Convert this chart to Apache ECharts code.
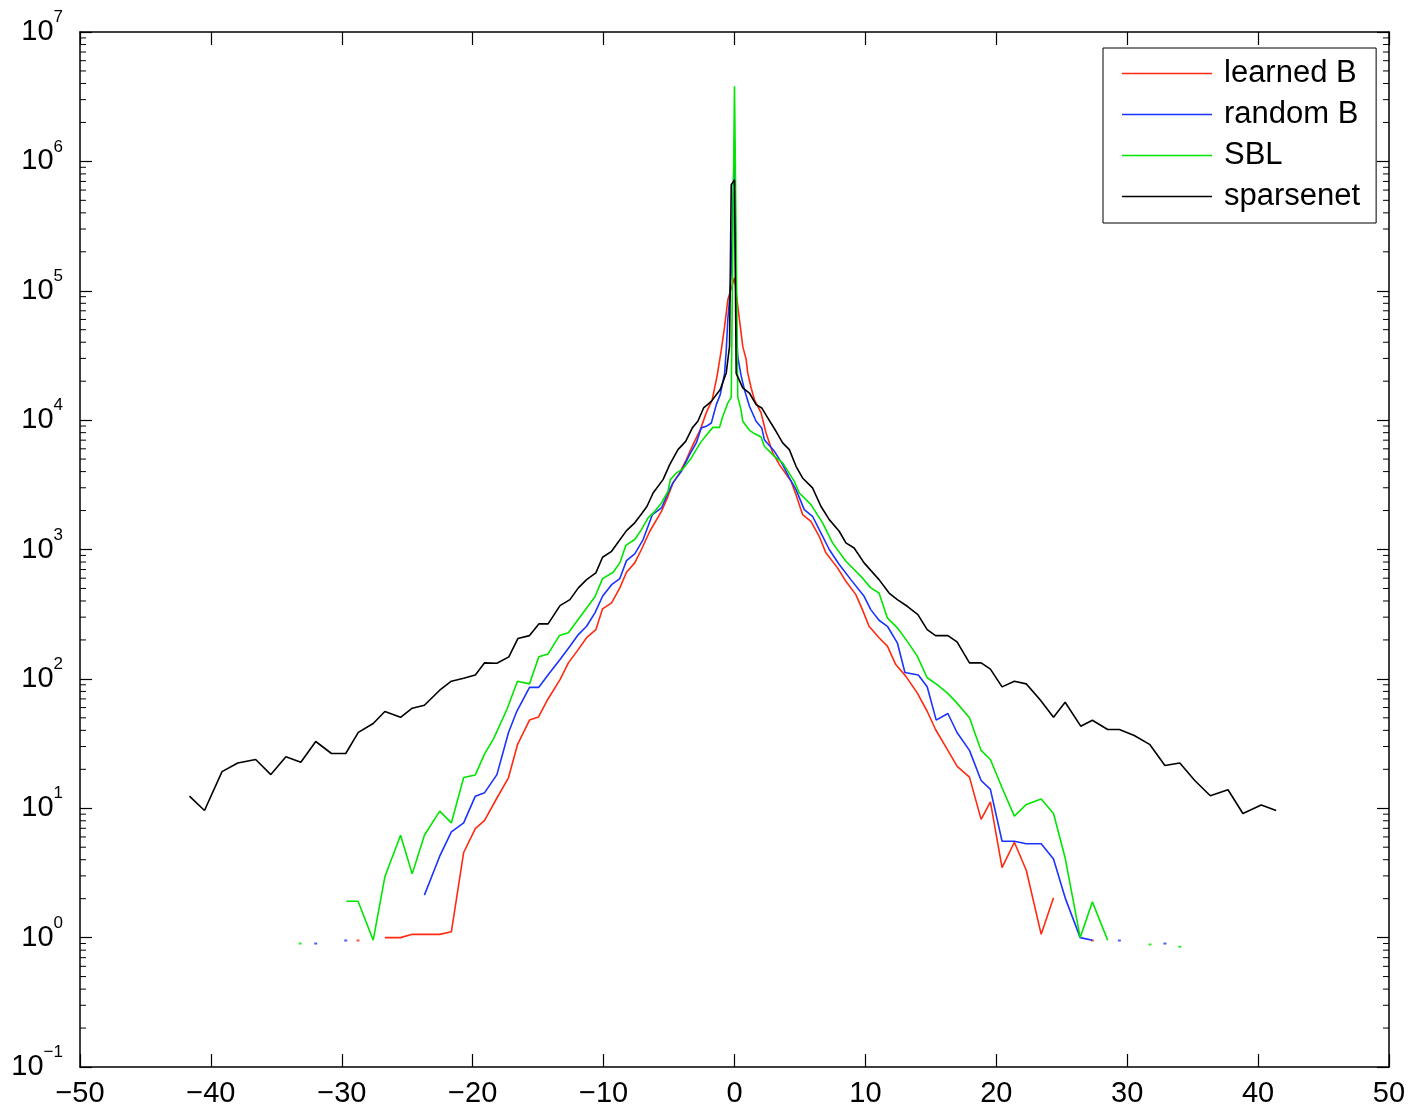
<!DOCTYPE html>
<html>
<head>
<meta charset="utf-8">
<script src="https://cdn.jsdelivr.net/npm/echarts@6/dist/echarts.min.js"></script>
<style>
html,body{margin:0;padding:0;background:#fff;}
#chart{width:1414px;height:1110px;}
</style>
</head>
<body>
<div id="chart"></div>
<script>
// ---- data (x, count) ----
const seriesNames = ['learned B', 'random B', 'SBL', 'sparsenet'];
const xTicks = [-50, -40, -30, -20, -10, 0, 10, 20, 30, 40, 50];

const learnedB = [
  [-26.71,1.0],[-25.51,1.0],[-24.62,1.06],[-23.69,1.06],[-22.52,1.06],[-21.63,1.11],[-20.69,4.55],
  [-19.80,6.95],[-19.09,8.07],[-18.15,12],[-17.27,17.2],[-16.58,31],[-15.66,48],[-14.97,50.8],
  [-14.28,69],[-13.33,98.8],[-12.69,133],[-11.93,169],[-11.30,208],[-10.59,240],[-10.08,348],
  [-9.39,387],[-8.76,505],[-8.25,667],[-7.62,788],[-7.11,1000],[-6.47,1384],[-5.58,1972],
  [-5.08,2576],[-4.70,3273],[-4.19,3908],[-3.68,4955],[-3.17,6471],[-2.61,8450],[-2.16,11380],
  [-1.70,14400],[-1.33,22000],[-1.01,34700],[-0.76,52500],[-0.51,85100],[0,126000],
  [0.25,75900],[0.51,46800],[0.63,37150],[0.89,29500],[1.01,23170],[1.27,17780],[1.52,14400],
  [2.03,11380],[2.41,7960],[2.92,5585],[3.43,4530],[4.32,3365],[4.70,2655],[5.20,1862],
  [5.84,1652],[6.47,1265],[6.98,942],[7.87,721],[8.51,568],[9.27,448],[9.77,343],[10.28,255],
  [11.04,208],[11.68,179],[12.32,129],[13.08,105],[13.96,78],[14.72,56.2],[15.36,40.6],
  [16.12,30.1],[17.01,21.1],[17.95,17.4],[18.84,8.2],[19.55,11.2],[20.44,3.47],[21.38,5.46],
  [22.29,3.32],[23.43,1.06],[24.37,2.03]
];
const learnedDots = [[-28.76,0.95],[27.34,0.95]];

const randomB = [
  [-23.69,2.13],[-22.52,4.26],[-21.63,6.57],[-20.69,7.7],[-19.80,12.4],[-19.09,13.2],[-18.15,18.2],
  [-17.27,38.3],[-16.63,56.2],[-15.66,86],[-14.95,86],[-14.22,108],[-13.33,141],[-12.57,179],
  [-11.93,220],[-11.30,255],[-10.66,324],[-10.08,435],[-9.39,535],[-8.76,596],[-8.25,820],
  [-7.62,925],[-6.98,1194],[-6.27,1862],[-5.58,2094],[-5.08,2735],[-4.70,3273],[-4.06,4018],
  [-3.43,5408],[-2.92,6670],[-2.54,8710],[-2.16,8950],[-1.77,9500],[-1.39,13180],[-1.09,15740],
  [-0.76,22900],[-0.63,34700],[-0.51,60300],[-0.38,85100],[-0.25,140000],[0,1430000],
  [0.13,52500],[0.25,30900],[0.51,21900],[0.76,17200],[1.14,12800],[1.65,9800],[2.08,8700],
  [2.28,7060],[3.05,5740],[3.68,4530],[4.19,3573],[4.70,2904],[5.33,2032],[5.96,1807],
  [6.60,1343],[7.24,1000],[8.0,766],[8.89,585],[9.90,435],[10.41,343],[11.04,284],[11.68,255],
  [12.44,190],[13.02,112],[14.04,107],[14.72,87],[15.41,48],[16.3,54],[17.0,38.5],[17.95,28],
  [18.84,16.4],[19.55,14],[20.44,5.56],[21.38,5.56],[22.29,5.31],[23.43,5.31],[24.37,4.06],
  [25.26,2.03],[26.41,1.0],[27.34,0.955]
];
const randomDots = [[-31.99,0.9],[-29.70,0.95],[29.4,0.95],[32.88,0.9]];

const sbl = [
  [-29.65,1.91],[-28.76,1.91],[-27.6,0.955],[-26.71,2.95],[-25.51,6.18],[-24.62,3.11],[-23.69,6.18],
  [-22.52,9.5],[-21.63,7.7],[-20.69,17.3],[-19.80,18.1],[-19.09,26.3],[-18.41,34.4],[-17.39,58],
  [-16.58,96],[-15.66,91.5],[-14.95,148],[-14.24,156],[-13.38,216],[-12.69,227],[-10.66,431],
  [-10.08,596],[-9.27,667],[-8.76,788],[-8.30,1076],[-7.62,1194],[-7.11,1425],[-6.60,1754],
  [-6.09,1972],[-5.58,2290],[-5.08,2818],[-4.90,3467],[-4.44,3908],[-3.94,4198],[-3.30,5105],
  [-2.61,6670],[-2.11,7730],[-1.65,8790],[-1.14,8790],[-0.94,10400],[-0.51,13580],[-0.25,15000],
  [0,3800000],
  [0.25,15100],[0.5,12000],[0.63,9795],[1.14,8340],[1.52,7870],[2.03,7410],[2.28,6280],
  [3.05,5250],[3.68,4670],[4.57,3365],[4.95,2735],[5.84,2223],[6.73,1607],[7.49,1125],
  [8.51,811],[9.77,603],[10.41,505],[11.04,461],[11.68,296],[12.44,248],[13.2,195],[13.96,150],
  [14.72,102],[15.48,90.4],[16.25,78],[16.88,67],[17.95,50],[18.84,28],[19.55,23.8],[20.44,14.4],
  [21.38,8.7],[22.29,10.7],[23.43,11.8],[24.37,9.1],[25.26,4.14],[26.41,1.0],[27.34,1.89],
  [28.51,0.955]
];
const sblDots = [[-33.18,0.9],[31.74,0.885],[34.02,0.85]];

const sparsenet = [
  [-41.64,12.4],[-40.49,9.6],[-39.15,19.2],[-37.95,22.4],[-36.58,23.8],[-35.42,18.2],[-34.27,25],
  [-33.13,22.7],[-31.99,32.8],[-30.79,26.5],[-29.70,26.5],[-28.74,38.6],[-27.6,45.2],[-26.71,55.9],
  [-25.51,50.5],[-24.62,59.3],[-23.69,62.5],[-22.52,81.7],[-21.63,96],[-20.69,101],[-19.80,107],
  [-19.09,133],[-18.15,132],[-17.24,148],[-16.55,205],[-15.66,216],[-14.95,266],[-14.24,266],
  [-13.33,368],[-12.57,410],[-11.93,505],[-11.30,585],[-10.59,659],[-10.08,871],[-9.39,968],
  [-8.81,1167],[-8.25,1400],[-7.62,1607],[-7.11,1884],[-6.68,2158],[-6.22,2735],[-5.46,3467],
  [-4.95,4529],[-4.32,5916],[-3.73,6855],[-3.22,8710],[-2.80,9795],[-2.36,12420],[-1.77,13960],
  [-1.09,17220],[-0.63,23170],[-0.38,37150],[-0.25,660000],[0,720000],
  [0.13,23000],[0.63,17740],[1.14,16200],[1.65,13180],[2.08,12420],[2.54,10400],[3.17,8200],
  [3.68,6670],[4.19,5916],[4.70,4395],[5.20,3573],[5.96,2992],[6.60,2158],[7.24,1702],[8.0,1384],
  [8.51,1125],[9.14,1028],[9.90,788],[11.04,585],[11.81,461],[12.44,410],[13.2,364],[14.01,314],
  [14.72,240],[15.36,216],[16.3,216],[17.0,193],[17.95,133],[18.84,133],[19.55,119],[20.44,86.7],
  [21.38,96],[22.29,91.5],[23.33,69.2],[24.37,50.5],[25.26,65.9],[26.45,43.1],[27.34,47.9],
  [28.51,40.6],[29.4,40.6],[30.54,36.5],[31.74,31],[32.88,21.4],[34.02,22.4],[35.16,16.4],
  [36.35,12.5],[37.7,13.9],[38.84,9.1],[40.24,10.6],[41.38,9.6]
];

// ---- styling ----
const FONT = '"Liberation Sans", Arial, Helvetica, sans-serif';
const COLORS = ['#ff2a10', '#1a33ff', '#00e600', '#000000'];
const LW = 1.6;

const chart = echarts.init(document.getElementById('chart'), null, {renderer: 'canvas'});

const axisLine = {show: true, onZero: false, lineStyle: {color: '#000', width: 1.5}};
function xAxisDef(pos, showLabel) {
  return {
    type: 'value', min: -50, max: 50, interval: 10, position: pos,
    axisLine: axisLine,
    axisTick: {show: true, inside: true, length: 13, lineStyle: {color: '#000', width: 1.2}},
    axisLabel: {
      show: showLabel, margin: 12, fontSize: 29, lineHeight: 30, fontFamily: FONT, color: '#000',
      formatter: v => String(v).replace('-', '\u2212')
    },
    splitLine: {show: false}
  };
}
function yAxisDef(pos, showLabel) {
  return {
    type: 'log', logBase: 10, min: 0.1, max: 1e7, interval: 1, splitNumber: 8, position: pos,
    axisLine: axisLine,
    axisTick: {show: true, inside: true, length: 12, lineStyle: {color: '#000', width: 1.2}},
    axisLabel: {
      show: showLabel, margin: 17,
      formatter: v => {
        const e = Math.round(Math.log10(v));
        return '{b|10}{s|' + String(e).replace('-', '\u2212') + '}';
      },
      rich: {
        b: {fontSize: 29, lineHeight: 46, fontFamily: FONT, color: '#000'},
        s: {fontSize: 17, lineHeight: 17, verticalAlign: 'top', fontFamily: FONT, color: '#000'}
      }
    },
    splitLine: {show: false}
  };
}

function lineSeries(name, data, color) {
  return {
    name: name, type: 'line', data: data, xAxisIndex: 0, yAxisIndex: 0,
    showSymbol: false, symbol: 'none',
    lineStyle: {color: color, width: LW}, itemStyle: {color: color},
    animation: false, silent: true
  };
}
function dotSeries(name, data, color) {
  return {
    name: name, type: 'scatter', data: data, xAxisIndex: 0, yAxisIndex: 0,
    symbol: 'rect', symbolSize: [3, 2], itemStyle: {color: color},
    animation: false, silent: true
  };
}

chart.setOption({
  backgroundColor: '#fff',
  animation: false,
  grid: {left: 80, right: 25, top: 32, bottom: 43, containLabel: false},
  xAxis: [xAxisDef('bottom', true), xAxisDef('top', false)],
  yAxis: [yAxisDef('left', true), yAxisDef('right', false)],
  legend: {
    data: seriesNames.map(n => ({name: n, icon: 'rect'})),
    orient: 'vertical', left: 1103, top: 48,
    itemWidth: 90, itemHeight: 1.6, itemGap: 10,
    padding: [10, 16, 11, 19],
    borderColor: '#000', borderWidth: 1, backgroundColor: '#fff',
    textStyle: {fontSize: 31, lineHeight: 31, fontFamily: FONT, color: '#000', padding: [0, 0, 0, 7]},
    selectedMode: false
  },
  series: [
    lineSeries(seriesNames[0], learnedB, COLORS[0]),
    lineSeries(seriesNames[1], randomB, COLORS[1]),
    lineSeries(seriesNames[2], sbl, COLORS[2]),
    lineSeries(seriesNames[3], sparsenet, COLORS[3]),
    dotSeries('learned B dots', learnedDots, COLORS[0]),
    dotSeries('random B dots', randomDots, COLORS[1]),
    dotSeries('SBL dots', sblDots, COLORS[2])
  ]
});

// minor log ticks (2..9 x 10^k) on left and right axes, positioned through the axis scale
(function () {
  const els = [];
  const xl = chart.convertToPixel({xAxisIndex: 0}, -50);
  const xr = chart.convertToPixel({xAxisIndex: 0}, 50);
  for (let k = -1; k < 7; k++) {
    for (let m = 2; m < 10; m++) {
      const y = chart.convertToPixel({yAxisIndex: 0}, m * Math.pow(10, k));
      els.push({type: 'line', silent: true, shape: {x1: xl, y1: y, x2: xl + 6, y2: y},
        style: {stroke: '#000', lineWidth: 1}});
      els.push({type: 'line', silent: true, shape: {x1: xr, y1: y, x2: xr - 6, y2: y},
        style: {stroke: '#000', lineWidth: 1}});
    }
  }
  chart.setOption({graphic: els});
})();
</script>
</body>
</html>
